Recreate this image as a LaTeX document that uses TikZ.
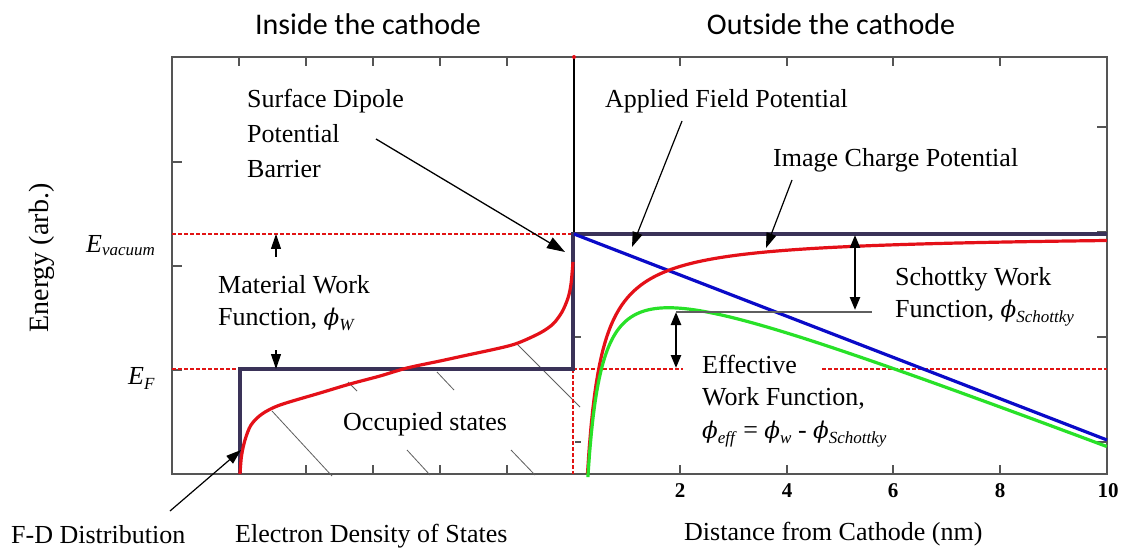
\documentclass[tikz,border=0pt]{standalone}
\usepackage{fontspec}
\setmainfont{Liberation Serif}
\newfontfamily\hdrfont{Carlito}
\newfontfamily\phifont{DejaVu Serif}
\usetikzlibrary{arrows.meta}
\newcommand\fsz[1]{\fontsize{#1}{#1}\selectfont}
\newcommand\sbs[1]{\raisebox{-5pt}{\fsz{17}\textit{#1}}}
\newcommand\vphi{{\phifont\itshape\fontsize{23}{23}\selectfont ϕ}}
\definecolor{navy}{RGB}{58,50,88}
\definecolor{fdred}{RGB}{228,16,24}
\definecolor{fblue}{RGB}{10,10,200}
\definecolor{fgreen}{RGB}{40,225,40}
\definecolor{dred}{RGB}{225,20,20}
\definecolor{framegray}{RGB}{85,85,85}
\definecolor{hatchgray}{RGB}{95,95,95}
\begin{document}
\begin{tikzpicture}[x=1pt,y=-1pt,
  lbl/.style={anchor=base west,inner sep=0,font=\fsz{26}},
  hdr/.style={anchor=base,inner sep=0,font=\hdrfont\fsz{30}},
  ticklbl/.style={anchor=base,inner sep=0,font=\bfseries\fsz{21}},
  tickline/.style={framegray,line width=1.1},
  framebox/.style={framegray,line width=1.3},
  navyline/.style={navy,line width=3.8},
  curve/.style={line width=3.2,line join=round},
  refdash/.style={dred,line width=1.2,dash pattern=on 3.5pt off 2.5pt},
  hatch/.style={hatchgray,line width=0.8},
  arr/.style={-{Triangle[length=15pt,width=10pt]},line width=1.2},
  bigarr/.style={-{Triangle[length=18pt,width=12pt]},line width=1.3},
  dblarr/.style={{Triangle[length=13pt,width=10pt]}-{Triangle[length=13pt,width=10pt]},line width=2.4}]
\useasboundingbox (0,0) rectangle (1122,548);
\fill[white] (0,0) rectangle (1122,548);

% frame
\draw[framebox] (172,57) rectangle (1107,474);
% ticks left panel
\foreach \t in {239,306,373,440,507}{
  \draw[tickline] (\t,57) -- (\t,66);
  \draw[tickline] (\t,474) -- (\t,465);}
\foreach \t in {162,266,370}{\draw[tickline] (172,\t) -- (182,\t);}
% ticks right panel
\foreach \t in {680,787,893,1000}{
  \draw[tickline] (\t,57) -- (\t,66);
  \draw[tickline] (\t,474) -- (\t,465);}
\foreach \t in {127,232,337,442}{\draw[tickline] (1107,\t) -- (1097,\t);}
\foreach \t in {337,442}{\draw[tickline] (575,\t) -- (581,\t);}

% hatch lines (occupied states)
\draw[hatch] (272,411) -- (332,476);
\draw[hatch] (348,382) -- (357,391);
\draw[hatch] (407,450) -- (430,475);
\draw[hatch] (437,372) -- (454,390);
\draw[hatch] (511,450) -- (535,475);
\draw[hatch] (517,344) -- (580,407);

% reference dashed lines
\draw[refdash] (172,234) -- (573,234);
\draw[refdash] (172,369) -- (240,369);
\draw[refdash] (573,369) -- (683,369);
\draw[refdash] (822,369) -- (1107,369);
\draw[refdash] (573,369) -- (573,474);

% cathode surface line
\draw[black,line width=1.6] (574,57) -- (574,234);
\fill[fdred] (574,57) circle (2);

% band step
\draw[navyline,line join=miter] (240,474) -- (240,369) -- (573,369) -- (573,234) -- (1107,234);

% F-D distribution
\draw[curve,fdred] plot[smooth] coordinates {(240,474) (241.5,456) (245,440) (251,425) (262,414) (280,405) (320,393) (350,384) (380,376) (407,368) (440,361) (463,356) (500,348) (518,343) (540,333) (553,324) (562,312) (568,298) (571,284) (573,262)};

% applied field potential
\draw[curve,fblue] (574,234) -- (1107,440);
% image charge potential
\draw[curve,fdred] plot[domain=0.271:10,samples=300] ({573+53.4*\x},{234+65/\x});
% effective potential
\draw[curve,fgreen] plot[domain=0.278:10,samples=300] ({573+53.4*\x},{234+66/\x+20.6*\x});

% coordinates for connectors
\coordinate (sdtail) at (376,139);
\coordinate (sdtip) at (565,252);
\coordinate (fdtail) at (170,511);
\coordinate (fdtip) at (241,450);
\coordinate (aftail) at (682,121);
\coordinate (aftip) at (632,247);
\coordinate (ictail) at (792,180);
\coordinate (ictip) at (766,248);
\coordinate (vacA) at (276,234);
\coordinate (vacAt) at (276,257);
\coordinate (efA) at (276,369);
\coordinate (efAt) at (276,350);
\coordinate (skTop) at (855,235);
\coordinate (skBot) at (855,310);
\coordinate (efTop) at (676,312);
\coordinate (efBot) at (676,368);
\coordinate (peak) at (676,312);
\coordinate (skEnd) at (872,312);

% texts
\node[hdr] (hin) at (368,35) {Inside the cathode};
\node[hdr] (hout) at (831,35) {Outside the cathode};
\node[anchor=base,inner sep=0,rotate=90,font=\fsz{28}] (ylab) at (48,258) {Energy (arb.)};
\node[anchor=base west,inner sep=0,font=\fsz{26}] (evac) at (86,252) {\textit{E}\raisebox{-3pt}{\fsz{17}\textit{vacuum}}};
\node[anchor=base west,inner sep=0,font=\fsz{26}] (ef) at (128,384) {\textit{E}\raisebox{-5pt}{\fsz{17}\textit{F}}};

\node[lbl] (sd1) at (247,108) {Surface Dipole};
\node[lbl] (sd2) at (247,143) {Potential};
\node[lbl] (sd3) at (247,178) {Barrier};
\node[lbl] (mw1) at (218,294) {Material Work};
\node[lbl] (mw2) at (218,325) {Function, \vphi\sbs{W}};
\node[lbl] (occ) at (343,430) {Occupied states};
\node[lbl] (eds) at (235,542) {Electron Density of States};
\node[lbl] (fd) at (11,543) {F-D Distribution};
\node[lbl] (dist) at (684,540) {Distance from Cathode (nm)};
\node[lbl] (afp) at (605,108) {Applied Field Potential};
\node[lbl] (icp) at (773,167) {Image Charge Potential};
\node[lbl] (sk1) at (895,285) {Schottky Work};
\node[lbl] (sk2) at (895,317) {Function, \vphi\sbs{Schottky}};
\node[lbl] (ew1) at (702,373) {Effective};
\node[lbl] (ew2) at (702,405) {Work Function,};
\node[lbl] (ew3) at (702,438) {\vphi\sbs{eff} = \vphi\sbs{w} - \vphi\sbs{Schottky}};

\node[ticklbl] (x2) at (680,497) {2};
\node[ticklbl] (x4) at (787,497) {4};
\node[ticklbl] (x6) at (893,497) {6};
\node[ticklbl] (x8) at (1000,497) {8};
\node[ticklbl] (x10) at (1108,497) {10};

% connectors
\draw[bigarr] (sdtail) -- (sdtip);
\draw[arr] (fdtail) -- (fdtip);
\draw[arr] (aftail) -- (aftip);
\draw[arr] (ictail) -- (ictip);
\draw[arr] (vacAt) -- (vacA);
\draw[arr] (efAt) -- (efA);
\draw[dblarr] (skTop) -- (skBot);
\draw[dblarr] (efTop) -- (efBot);
\draw[hatchgray,line width=1.3] (peak) -- (skEnd);
\end{tikzpicture}
\end{document}
